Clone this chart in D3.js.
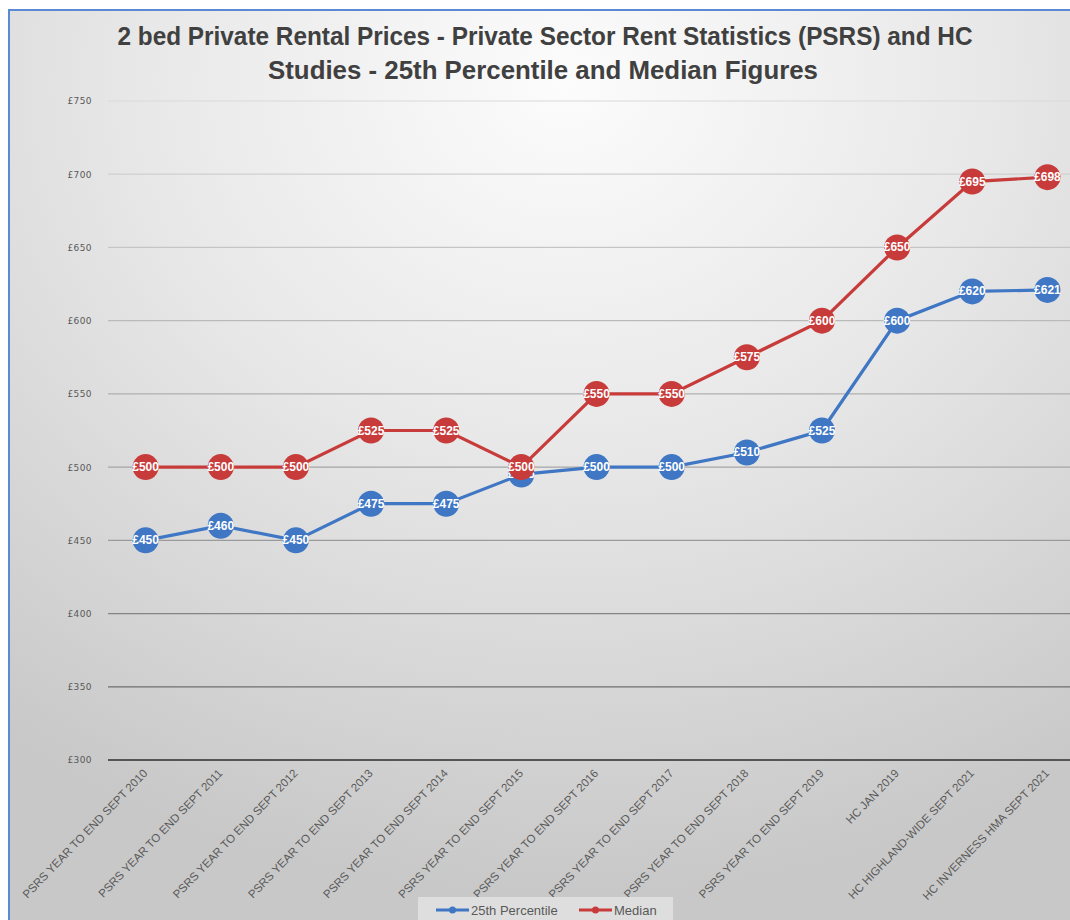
<!DOCTYPE html>
<html>
<head>
<meta charset="utf-8">
<script src="https://cdn.jsdelivr.net/npm/d3@7"></script>
<style>
  body { margin: 0; background: #ffffff; }
  svg { display: block; }
</style>
</head>
<body>
<div id="chart"></div>
<script>
// categories along the x axis
var categories = [
    "PSRS YEAR TO END SEPT 2010",
    "PSRS YEAR TO END SEPT 2011",
    "PSRS YEAR TO END SEPT 2012",
    "PSRS YEAR TO END SEPT 2013",
    "PSRS YEAR TO END SEPT 2014",
    "PSRS YEAR TO END SEPT 2015",
    "PSRS YEAR TO END SEPT 2016",
    "PSRS YEAR TO END SEPT 2017",
    "PSRS YEAR TO END SEPT 2018",
    "PSRS YEAR TO END SEPT 2019",
    "HC JAN 2019",
    "HC HIGHLAND-WIDE SEPT 2021",
    "HC INVERNESS HMA SEPT 2021"
];

var percentile25 = [450, 460, 450, 475, 475, 495, 500, 500, 510, 525, 600, 620, 621];
var median = [500, 500, 500, 525, 525, 500, 550, 550, 575, 600, 650, 695, 698];

var yTicks = [300, 350, 400, 450, 500, 550, 600, 650, 700, 750];

var seriesNames = ["25th Percentile", "Median"];

var W = 1070, H = 920;
var margin = { top: 101, right: -15, bottom: 160, left: 108 };
var innerW = W - margin.left - margin.right;
var innerH = H - margin.top - margin.bottom;

var svg = d3.select("#chart").append("svg")
    .attr("width", W)
    .attr("height", H);

var defs = svg.append("defs");
var grad = defs.append("radialGradient")
    .attr("id", "bg")
    .attr("cx", "52%").attr("cy", "8%")
    .attr("r", "88%");
grad.append("stop").attr("offset", "0%").attr("stop-color", "#fcfcfc");
grad.append("stop").attr("offset", "45%").attr("stop-color", "#e8e8e8");
grad.append("stop").attr("offset", "100%").attr("stop-color", "#c8c8c8");

// chart area + frame
svg.append("rect")
    .attr("x", 9).attr("y", 10)
    .attr("width", W).attr("height", H)
    .attr("fill", "url(#bg)");
svg.append("line")
    .attr("x1", 8).attr("x2", W).attr("y1", 10).attr("y2", 10)
    .attr("stroke", "#5a8ad4").attr("stroke-width", 2);
svg.append("line")
    .attr("x1", 9).attr("x2", 9).attr("y1", 10).attr("y2", H)
    .attr("stroke", "#5a8ad4").attr("stroke-width", 2);

// title
var title = svg.append("text")
    .attr("text-anchor", "middle")
    .style("font-family", "'Liberation Sans Narrow', 'Arial Narrow', sans-serif")
    .style("font-weight", "bold")
    .style("font-size", "26px")
    .attr("fill", "#404040");
title.append("tspan").attr("x", 545).attr("y", 45)
    .attr("textLength", 855).attr("lengthAdjust", "spacingAndGlyphs")
    .text("2 bed Private Rental Prices - Private Sector Rent Statistics (PSRS) and HC");
title.append("tspan").attr("x", 543).attr("y", 79)
    .attr("textLength", 550).attr("lengthAdjust", "spacingAndGlyphs")
    .text("Studies - 25th Percentile and Median Figures");

var g = svg.append("g")
    .attr("transform", "translate(" + margin.left + "," + margin.top + ")");

var x = d3.scalePoint()
    .domain(categories)
    .range([0, innerW])
    .padding(0.5);

var y = d3.scaleLinear()
    .domain([300, 750])
    .range([innerH, 0]);

var gridColor = d3.scaleLinear()
    .domain([300, 350, 450, 750])
    .range(["#555555", "#6e6e6e", "#9a9a9a", "#dadada"]);

// gridlines
g.selectAll(".grid")
    .data(yTicks)
    .enter().append("line")
    .attr("class", "grid")
    .attr("x1", 0)
    .attr("x2", innerW)
    .attr("y1", function (d) { return y(d); })
    .attr("y2", function (d) { return y(d); })
    .attr("stroke", function (d) { return gridColor(d); })
    .attr("stroke-width", function (d) { return d == 300 ? 2 : 1.2; });

// y labels
var yAxis = d3.axisLeft(y)
    .tickValues(yTicks)
    .tickSize(0)
    .tickPadding(16)
    .tickFormat(function (d) { return "£" + d; });

g.append("g")
    .call(yAxis)
    .call(function (a) { a.select(".domain").remove(); })
    .selectAll("text")
    .style("font-family", "'DejaVu Sans', sans-serif")
    .style("font-size", "9px")
    .style("letter-spacing", "0.4px")
    .attr("fill", "#595959");

// x labels
var xAxis = d3.axisBottom(x).tickSize(0).tickPadding(0);
g.append("g")
    .attr("transform", "translate(0," + innerH + ")")
    .call(xAxis)
    .call(function (a) { a.select(".domain").remove(); })
    .selectAll("text")
    .attr("text-anchor", "end")
    .attr("dy", 0)
    .attr("transform", "translate(2,14) rotate(-46)")
    .style("font-family", "'Liberation Sans Narrow', 'Arial Narrow', sans-serif")
    .style("font-size", "11.5px")
    .attr("fill", "#595959");

var series = [
    { name: seriesNames[0], values: percentile25, color: "#3f77c4" },
    { name: seriesNames[1], values: median, color: "#c83b3b" }
];

var line = d3.line()
    .x(function (d, i) { return x(categories[i]); })
    .y(function (d) { return y(d); });

series.forEach(function (s) {
    var sg = g.append("g");

    sg.append("path")
        .datum(s.values)
        .attr("fill", "none")
        .attr("stroke", s.color)
        .attr("stroke-width", 3.2)
        .attr("d", line);

    sg.selectAll("circle")
        .data(s.values)
        .enter().append("circle")
        .attr("cx", function (d, i) { return x(categories[i]); })
        .attr("cy", function (d) { return y(d); })
        .attr("r", 13)
        .attr("fill", s.color);

    sg.selectAll(".lbl")
        .data(s.values)
        .enter().append("text")
        .attr("class", "lbl")
        .attr("x", function (d, i) { return x(categories[i]); })
        .attr("y", function (d) { return y(d) + 4; })
        .attr("text-anchor", "middle")
        .style("font-family", "'Liberation Sans Narrow', 'Arial Narrow', sans-serif")
        .style("font-weight", "bold")
        .style("font-size", "12px")
        .attr("fill", "#ffffff")
        .text(function (d) { return "£" + d; });
});

// legend
var legend = svg.append("g");
legend.append("rect")
    .attr("x", 418).attr("y", 897)
    .attr("width", 255).attr("height", 30)
    .attr("fill", "#dedede");

var legendItems = [
    { name: seriesNames[0], color: "#3f77c4", x: 436 },
    { name: seriesNames[1], color: "#c83b3b", x: 579 }
];
legendItems.forEach(function (l) {
    legend.append("line")
        .attr("x1", l.x).attr("x2", l.x + 33)
        .attr("y1", 910).attr("y2", 910)
        .attr("stroke", l.color).attr("stroke-width", 3);
    legend.append("circle")
        .attr("cx", l.x + 16.5).attr("cy", 910).attr("r", 3.5)
        .attr("fill", l.color);
    legend.append("text")
        .attr("x", l.x + 35).attr("y", 914.5)
        .style("font-family", "'Liberation Sans Narrow', 'Arial Narrow', sans-serif")
        .style("font-size", "13px")
        .attr("fill", "#595959")
        .text(l.name);
});
</script>
</body>
</html>
